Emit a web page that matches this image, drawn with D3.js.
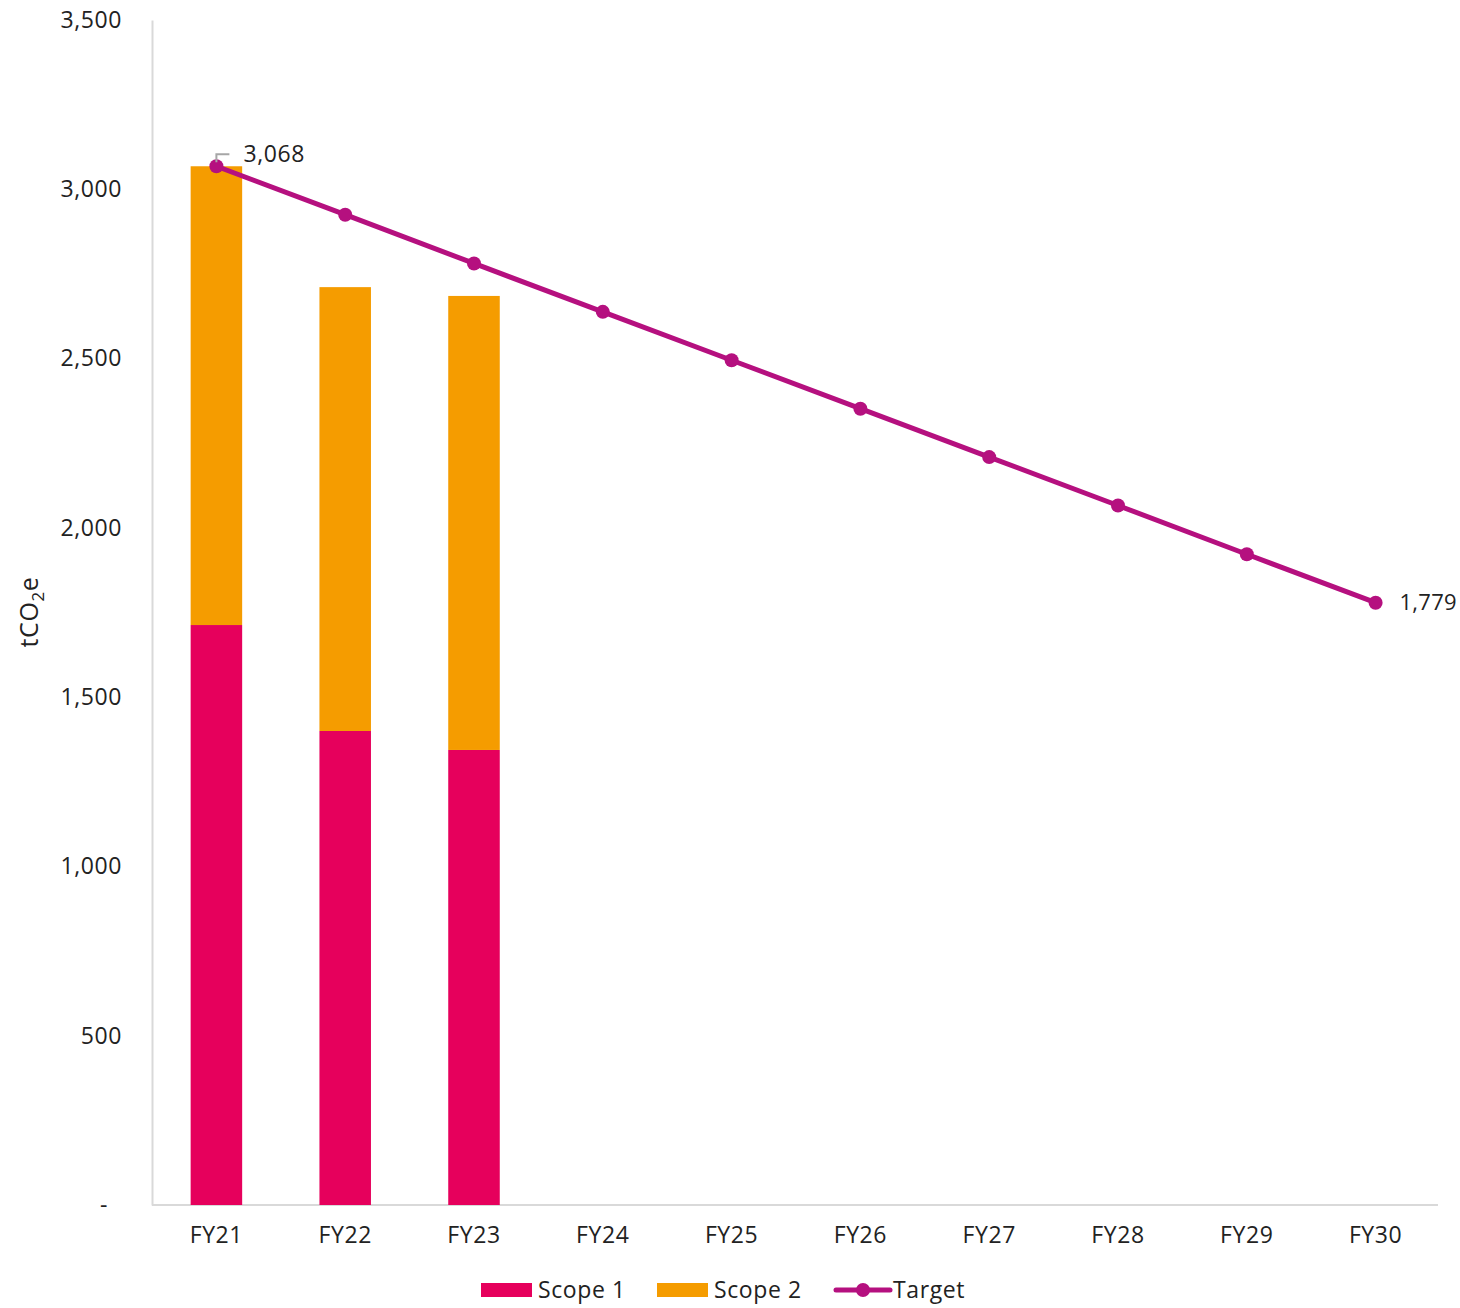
<!DOCTYPE html>
<html>
<head>
<meta charset="utf-8">
<script src="https://cdn.jsdelivr.net/npm/d3@7"></script>
<style>
  body { margin: 0; background: #fff; }
  text { font-family: "Open Sans", "DejaVu Sans", sans-serif; fill: #222; letter-spacing: 0.6px; }
</style>
</head>
<body>
<svg id="chart" width="1460" height="1308"></svg>
<script>
const years = ['FY21', 'FY22', 'FY23', 'FY24', 'FY25', 'FY26', 'FY27', 'FY28', 'FY29', 'FY30'];
const scope1 = [1713, 1400, 1344];
const scope2 = [1355, 1311, 1341];
const target = [3068, 2925, 2781, 2638, 2495, 2352, 2209, 2066, 1922, 1779];
const yTicks = [0, 500, 1000, 1500, 2000, 2500, 3000, 3500];

const colors = { s1: '#e6005c', s2: '#f59c00', target: '#b5107f', axis: '#d9d9d9' };

const svg = d3.select('#chart');
const plotLeft = 152, plotRight = 1440, plotTop = 20, plotBottom = 1205;

const x = d3.scaleBand().domain(years).range([plotLeft, plotRight]).paddingInner(0.6).paddingOuter(0.3);
const y = d3.scaleLinear().domain([0, 3500]).range([plotBottom, plotTop]);
const fmt = d3.format(',');

// axes
const yAxis = svg.append('g').attr('transform', `translate(${plotLeft},0)`)
    .call(d3.axisLeft(y).tickValues(yTicks).tickSize(0).tickPadding(30)
        .tickFormat(d => d === 0 ? '-' : fmt(d)));
yAxis.select('.domain').attr('stroke', colors.axis).attr('stroke-width', 2);
yAxis.selectAll('text').style('font-size', '23px').attr('fill', '#222')
    .attr('dx', d => d === 0 ? -14 : 0);

const xAxis = svg.append('g').attr('transform', `translate(0,${plotBottom})`)
    .call(d3.axisBottom(x).tickSize(0).tickPadding(22));
xAxis.select('.domain').attr('stroke', colors.axis).attr('stroke-width', 2).attr('d', `M${plotLeft},0H${plotRight - 2}`);
xAxis.selectAll('text').style('font-size', '23px').attr('fill', '#222');

// y title
svg.append('text')
    .attr('transform', 'translate(38,612) rotate(-90)')
    .attr('text-anchor', 'middle')
    .style('font-size', '25px')
    .html('tCO<tspan font-size="17px" dy="6">2</tspan><tspan dy="-6">e</tspan>');

// stacked bars
const stacked = scope1.map((v, i) => ({ year: years[i], s1: v, s2: scope2[i] }));
const series = d3.stack().keys(['s1', 's2'])(stacked);
svg.append('g').selectAll('g').data(series).join('g')
    .attr('fill', d => colors[d.key])
    .selectAll('rect').data(d => d).join('rect')
    .attr('x', d => x(d.data.year))
    .attr('width', x.bandwidth())
    .attr('y', d => y(d[1]))
    .attr('height', d => y(d[0]) - y(d[1]));

// target line
const cx = d => x(d) + x.bandwidth() / 2;
const line = d3.line().x((d, i) => cx(years[i])).y(d => y(d));
svg.append('path').datum(target)
    .attr('d', line).attr('fill', 'none')
    .attr('stroke', colors.target).attr('stroke-width', 5);
svg.append('g').selectAll('circle').data(target).join('circle')
    .attr('cx', (d, i) => cx(years[i])).attr('cy', d => y(d))
    .attr('r', 7).attr('fill', colors.target);

// labels
const first = target[0], last = target[target.length - 1];
const fx = cx(years[0]), fy = y(first);
svg.append('path')
    .attr('d', `M${fx},${fy - 4}V${fy - 12}H${fx + 13}`)
    .attr('fill', 'none').attr('stroke', '#a6a6a6').attr('stroke-width', 2);
svg.append('text').attr('x', fx + 27).attr('y', fy - 12)
    .attr('dy', '0.35em').style('font-size', '23px').text(fmt(first));
svg.append('text').attr('x', 1457).attr('y', y(last))
    .attr('text-anchor', 'end').style('letter-spacing', '0.3px')
    .attr('dy', '0.35em').style('font-size', '22px').text(fmt(last));

// legend
const lg = svg.append('g').attr('transform', 'translate(0,1290)');
lg.append('rect').attr('x', 481).attr('y', -7).attr('width', 51).attr('height', 14).attr('fill', colors.s1);
lg.append('text').attr('x', 538).attr('dy', '0.35em').style('font-size', '23px').text('Scope 1');
lg.append('rect').attr('x', 657).attr('y', -7).attr('width', 51).attr('height', 14).attr('fill', colors.s2);
lg.append('text').attr('x', 714).attr('dy', '0.35em').style('font-size', '23px').text('Scope 2');
lg.append('line').attr('x1', 836).attr('x2', 890).attr('stroke', colors.target).attr('stroke-width', 5).attr('stroke-linecap', 'round');
lg.append('circle').attr('cx', 863).attr('r', 7).attr('fill', colors.target);
lg.append('text').attr('x', 893).attr('dy', '0.35em').style('font-size', '23px').text('Target');
</script>
</body>
</html>
